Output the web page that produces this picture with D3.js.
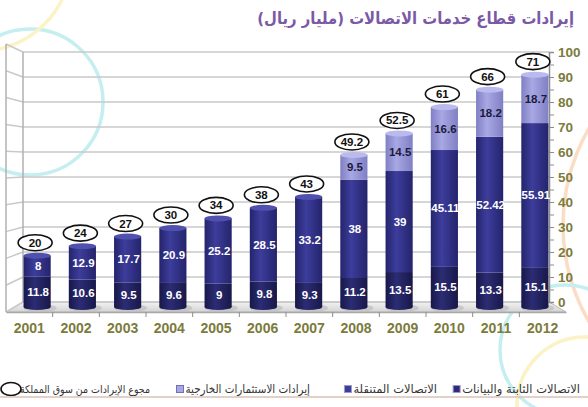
<!DOCTYPE html>
<html>
<head>
<meta charset="utf-8">
<script src="https://cdn.jsdelivr.net/npm/d3@7"></script>
<style>
  body { margin: 0; background: #fff; }
  svg { display: block; font-family: "Liberation Sans", Arial, sans-serif; }
</style>
</head>
<body>
<div id="app"></div>
<script>
const container = document.querySelector('#app');

const width = 588;
const height = 407;

// data
const years = [2001, 2002, 2003, 2004, 2005, 2006, 2007, 2008, 2009, 2010, 2011, 2012];
const fixedLine = [11.8, 10.6, 9.5, 9.6, 9, 9.8, 9.3, 11.2, 13.5, 15.5, 13.3, 15.1];
const mobile = [8, 12.9, 17.7, 20.9, 25.2, 28.5, 33.2, 38, 39, 45.11, 52.42, 55.91];
const foreign = [0, 0, 0, 0, 0, 0, 0, 9.5, 14.5, 16.6, 18.2, 18.7];
const domesticTotal = [20, 24, 27, 30, 34, 38, 43, 49.2, 52.5, 61, 66, 71];
const yTicks = d3.range(0, 101, 10);
const yMinorTicks = d3.range(0, 101, 5);

const title = "إيرادات قطاع خدمات الاتصالات (مليار ريال)";
const seriesNames = ["الاتصالات الثابتة والبيانات", "الاتصالات المتنقلة", "إيرادات الاستثمارات الخارجية"];
const totalName = "مجوع الإيرادات من سوق المملكة";

// 3d box: front plane, back plane, and bars in between
const xFront = d3.scaleBand().domain(years).range([6, 566]);
const xBack = d3.scaleBand().domain(years).range([23, 549]);
const xMid = d3.scaleBand().domain(years).range([14.5, 557.5]);
const yFront = d3.scaleLinear().domain([0, 100]).range([312, 44]);
const yBack = d3.scaleLinear().domain([0, 100]).range([302, 52]);
const y = d3.scaleLinear().domain([0, 100]).range([307, 48]);

const olive = "#7b7b3c";
const gridColor = "#c9c9c9";

const svg = d3.create("svg")
    .attr("width", width)
    .attr("height", height);
container.append(svg.node());

const defs = svg.append("defs");

// cylinder shading
const palette = [
  { id: "gFixed", edge: "#18184a", mid: "#2c2c74", cap: "#3a3a86", label: "#fff" },
  { id: "gMobile", edge: "#24246c", mid: "#3d3d9c", cap: "#5050ae", label: "#fff" },
  { id: "gForeign", edge: "#7f7fc4", mid: "#a8a8e4", cap: "#babaee", label: "#1a1a3c" }
];
palette.forEach(p => {
  const g = defs.append("linearGradient").attr("id", p.id)
      .attr("x1", 0).attr("x2", 1).attr("y1", 0).attr("y2", 0);
  g.append("stop").attr("offset", "0%").attr("stop-color", p.edge);
  g.append("stop").attr("offset", "40%").attr("stop-color", p.mid);
  g.append("stop").attr("offset", "100%").attr("stop-color", p.edge);
});
const floorGrad = defs.append("linearGradient").attr("id", "gFloor")
    .attr("x1", 0).attr("x2", 0).attr("y1", 0).attr("y2", 1);
floorGrad.append("stop").attr("offset", "0%").attr("stop-color", "#f2f2f2");
floorGrad.append("stop").attr("offset", "100%").attr("stop-color", "#d4d4d4");

// faint decorative rings in the background
const rings = [
  { cx: 30, cy: 102, r: 73, c: "#c4eef0" },
  { cx: -20, cy: -40, r: 91, c: "#fbf2c6" },
  { cx: 756, cy: 225, r: 193, c: "#fbdcc4" },
  { cx: 565, cy: 350, r: 65, c: "#c4eef0" },
  { cx: 585, cy: 405, r: 68, c: "#fbf2c6" }
];
svg.append("g").selectAll("circle").data(rings).join("circle")
    .attr("cx", d => d.cx).attr("cy", d => d.cy).attr("r", d => d.r)
    .attr("fill", "none").attr("stroke", d => d.c).attr("stroke-width", 3.5);

// title
svg.append("text")
    .attr("x", 574).attr("y", 24)
    .attr("direction", "rtl")
    .attr("text-anchor", "start")
    .attr("font-family", "DejaVu Sans Condensed, DejaVu Sans, sans-serif")
    .attr("font-weight", "bold")
    .attr("font-size", 16.5)
    .attr("fill", "#7a5aa6")
    .text(title);

// floor
const x0 = xBack.range()[0], x1 = xBack.range()[1];
const f0 = xFront.range()[0], f1 = xFront.range()[1];
svg.append("path")
    .attr("d", `M${x0},${yBack(0)}L${x1},${yBack(0)}L${f1},${yFront(0)}L${f0},${yFront(0)}Z`)
    .attr("fill", "url(#gFloor)")
    .attr("stroke", "#b8b8b8");

// back wall gridlines
svg.append("g").selectAll("line").data(yTicks).join("line")
    .attr("x1", x0).attr("x2", x1)
    .attr("y1", d => yBack(d)).attr("y2", d => yBack(d))
    .attr("stroke", gridColor).attr("stroke-width", 1.5);

// side wall
svg.append("g").selectAll("line").data(yTicks).join("line")
    .attr("x1", f0).attr("x2", x0)
    .attr("y1", d => yFront(d)).attr("y2", d => yBack(d))
    .attr("stroke", gridColor).attr("stroke-width", 1.5);
svg.append("line")
    .attr("x1", f0).attr("x2", f0).attr("y1", yFront(100)).attr("y2", yFront(0))
    .attr("stroke", "#b0b0b0").attr("stroke-width", 1.5);
svg.append("line")
    .attr("x1", x0).attr("x2", x0).attr("y1", yBack(100)).attr("y2", yBack(0))
    .attr("stroke", "#b0b0b0").attr("stroke-width", 1.5);

// right value axis
const yAxis = svg.append("g")
    .attr("transform", `translate(${x1},0)`)
    .call(d3.axisRight(yBack).tickValues(yMinorTicks).tickSize(5).tickFormat(""));
yAxis.select(".domain").attr("stroke", "#8c8c8c").attr("stroke-width", 1.5);
yAxis.selectAll(".tick line").attr("stroke", "#8c8c8c");
svg.append("g").selectAll("text").data(yTicks).join("text")
    .attr("x", x1 + 9)
    .attr("y", d => yBack(d) + 5)
    .attr("font-weight", "bold")
    .attr("font-size", 13.5)
    .attr("fill", olive)
    .text(d => d);

// category axis along the front edge of the floor
const xAxis = svg.append("g")
    .attr("transform", `translate(0,${yFront(0)})`)
    .call(d3.axisBottom(xFront).tickSize(0).tickPadding(11));
xAxis.select(".domain").attr("stroke", "#a8a8a8").attr("stroke-width", 1.5);
xAxis.selectAll(".tick text")
    .attr("font-family", "Liberation Sans, Arial, sans-serif")
    .attr("font-weight", "bold")
    .attr("font-size", 14)
    .attr("fill", olive);
svg.append("g").selectAll("line").data(years.slice(1)).join("line")
    .attr("x1", d => xFront(d)).attr("x2", d => xFront(d))
    .attr("y1", yFront(0)).attr("y2", yFront(0) + 5)
    .attr("stroke", "#8c8c8c");

// stacked cylinders
const rows = years.map((yr, i) => ({
  year: yr,
  values: [fixedLine[i], mobile[i], foreign[i]],
  total: domesticTotal[i]
}));
const barW = xMid.bandwidth() * 0.6;
const capRy = 3;
const cx = d => xMid(d.year) + xMid.bandwidth() / 2;

const bars = svg.append("g").selectAll("g").data(rows).join("g");

// floor shadow and rounded base
bars.append("ellipse")
    .attr("cx", d => cx(d) + 3).attr("cy", y(0) + 1)
    .attr("rx", barW / 2 + 3).attr("ry", capRy + 1)
    .attr("fill", "#bdbdbd").attr("opacity", 0.7);
bars.append("ellipse")
    .attr("cx", cx).attr("cy", y(0))
    .attr("rx", barW / 2).attr("ry", capRy)
    .attr("fill", "url(#gFixed)");

bars.each(function(d) {
  const g = d3.select(this);
  let base = 0;
  d.values.forEach((v, k) => {
    if (!v) return;
    const top = base + v;
    g.append("rect")
        .attr("x", cx(d) - barW / 2)
        .attr("y", y(top))
        .attr("width", barW)
        .attr("height", y(base) - y(top))
        .attr("fill", `url(#${palette[k].id})`);
    g.append("text")
        .attr("x", cx(d) + 1)
        .attr("y", (y(base) + y(top)) / 2 + 4)
        .attr("text-anchor", "middle")
        .attr("font-weight", "bold")
        .attr("font-size", 11.5)
        .attr("fill", palette[k].label)
        .text(v);
    base = top;
  });
  const lastK = d.values[2] ? 2 : 1;
  g.append("ellipse")
      .attr("cx", cx(d)).attr("cy", y(base))
      .attr("rx", barW / 2).attr("ry", capRy)
      .attr("fill", palette[lastK].cap);
  d.top = base;
});

// domestic total bubbles
bars.append("ellipse")
    .attr("cx", d => cx(d) - 2).attr("cy", d => y(d.top) - 13)
    .attr("rx", 17).attr("ry", 8)
    .attr("fill", "#fff").attr("stroke", "#111").attr("stroke-width", 1.6);
bars.append("text")
    .attr("x", d => cx(d) - 2).attr("y", d => y(d.top) - 9)
    .attr("text-anchor", "middle")
    .attr("font-weight", "bold")
    .attr("font-size", 11.5)
    .attr("fill", "#111")
    .text(d => d.total);

// legend, right to left: text right edge fixed, marker placed left of the text
const legendY = 389;
const legendRight = [580, 437, 310, 150];
const legendFont = [
  { family: "DejaVu Sans, sans-serif", size: 11.5 },
  { family: "DejaVu Sans, sans-serif", size: 11.5 },
  { family: "DejaVu Sans Condensed, DejaVu Sans, sans-serif", size: 11.5 },
  { family: "DejaVu Sans Condensed, DejaVu Sans, sans-serif", size: 10.5 }
];
const legendText = k => svg.append("text")
    .attr("x", legendRight[k]).attr("y", legendY + 4)
    .attr("text-anchor", "end")
    .attr("font-family", legendFont[k].family)
    .attr("font-size", legendFont[k].size)
    .attr("fill", "#333")
    .text(k < 3 ? seriesNames[k] : totalName);

seriesNames.forEach((name, k) => {
  const left = legendText(k).node().getBBox().x;
  svg.append("rect")
      .attr("x", left - 9).attr("y", legendY - 3.5)
      .attr("width", 7).attr("height", 7)
      .attr("fill", palette[k].mid)
      .attr("stroke", k === 2 ? "#7070b8" : "#9a9ad0").attr("stroke-width", 1);
});
const totalLeft = legendText(3).node().getBBox().x;
svg.append("ellipse")
    .attr("cx", Math.max(totalLeft - 12, 11)).attr("cy", legendY)
    .attr("rx", 10).attr("ry", 6.5)
    .attr("fill", "#fff").attr("stroke", "#111").attr("stroke-width", 1.6);

svg.append("line")
    .attr("x1", 0).attr("x2", width).attr("y1", 397).attr("y2", 397)
    .attr("stroke", "#dcc0b4").attr("stroke-width", 1.5);
</script>
</body>
</html>
